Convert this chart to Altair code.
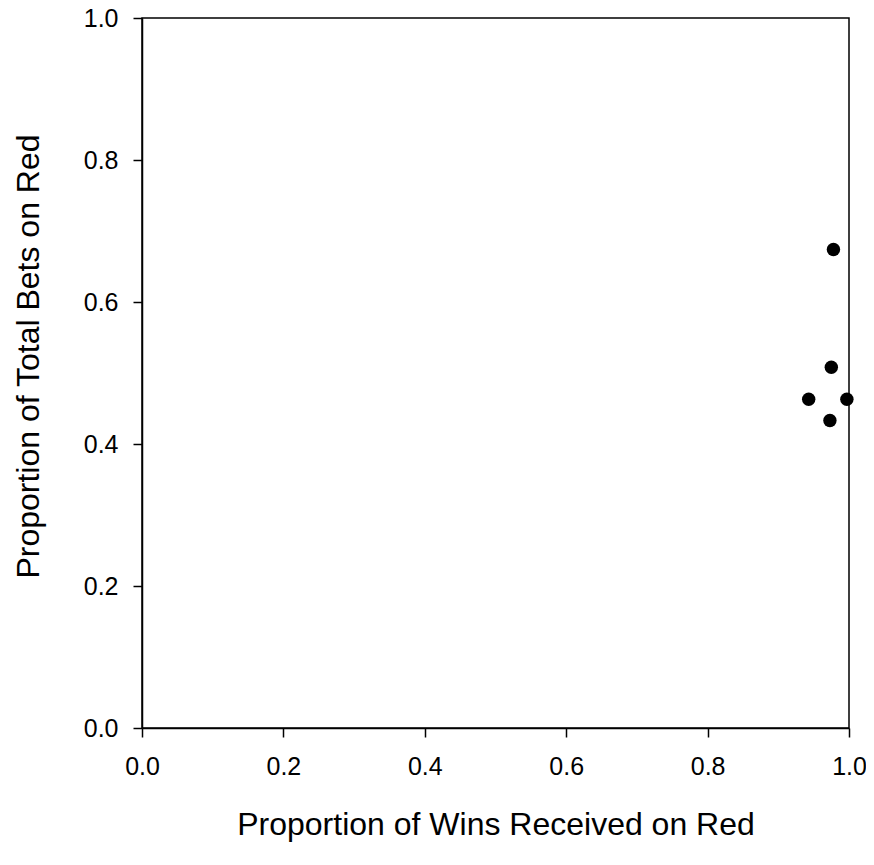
import altair as alt
import pandas as pd

wins_red = [0.978, 0.975, 0.943, 0.997, 0.973]
bets_red = [0.674, 0.508, 0.463, 0.463, 0.433]

df = pd.DataFrame({"wins": wins_red, "bets": bets_red})

FONT = "Liberation Sans"
ticks = [0, 0.2, 0.4, 0.6, 0.8, 1.0]

chart = alt.Chart(df).mark_circle(size=180, color="black", opacity=1).encode(
    x=alt.X("wins:Q", scale=alt.Scale(domain=[0, 1], nice=False, zero=True),
            axis=alt.Axis(title="Proportion of Wins Received on Red", values=ticks,
                          format=".1f", grid=False, tickSize=9, labelPadding=17,
                          labelFlush=False, titlePadding=30)),
    y=alt.Y("bets:Q", scale=alt.Scale(domain=[0, 1], nice=False, zero=True),
            axis=alt.Axis(title="Proportion of Total Bets on Red", values=ticks,
                          format=".1f", grid=False, tickSize=9, labelPadding=15,
                          labelFlush=False, titlePadding=38, titleY=338)),
).properties(
    width=707, height=710,
    background="white",
    autosize=alt.AutoSizeParams(type="none"),
    padding={"left": 134, "top": 10, "right": 17, "bottom": 129},
).configure_view(
    stroke="black", strokeWidth=1.5
).configure_axis(
    domainColor="black", domainWidth=1.5, tickColor="black", tickWidth=1.5,
    labelFont=FONT, labelFontSize=25, labelColor="black",
    titleFont=FONT, titleFontSize=32, titleFontWeight="normal", titleColor="black",
)

chart.save("out.html", embed_options={"renderer": "svg", "actions": False})
